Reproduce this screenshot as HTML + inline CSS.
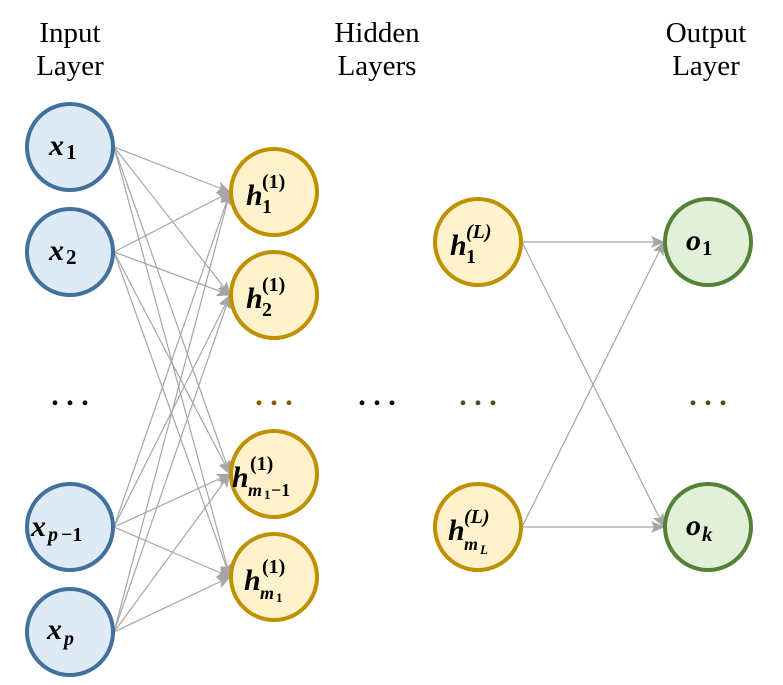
<!DOCTYPE html>
<html><head><style>body{margin:0;background:#fff}svg{display:block}</style></head><body>
<svg width="783" height="685" xmlns="http://www.w3.org/2000/svg" font-family="Liberation Serif, serif">
<defs><marker id="a" markerWidth="14" markerHeight="12" refX="13" refY="6" orient="auto" markerUnits="userSpaceOnUse"><path d="M0,0 L14,6 L0,12 L3,6 z" fill="#a6a6a6"/></marker></defs>
<g font-size="29" fill="#000" text-anchor="middle">
<text x="70" y="42">Input</text><text x="70" y="75">Layer</text>
<text x="377" y="42">Hidden</text><text x="377" y="75">Layers</text>
<text x="706" y="42">Output</text><text x="706" y="75">Layer</text>
</g>
<g stroke="#a6a6a6" stroke-width="1.2" marker-end="url(#a)">
<line x1="114" y1="147" x2="230" y2="192"/><line x1="114" y1="147" x2="230" y2="295"/><line x1="114" y1="147" x2="230" y2="474"/><line x1="114" y1="147" x2="230" y2="577"/>
<line x1="114" y1="252" x2="230" y2="192"/><line x1="114" y1="252" x2="230" y2="295"/><line x1="114" y1="252" x2="230" y2="474"/><line x1="114" y1="252" x2="230" y2="577"/>
<line x1="114" y1="527" x2="230" y2="192"/><line x1="114" y1="527" x2="230" y2="295"/><line x1="114" y1="527" x2="230" y2="474"/><line x1="114" y1="527" x2="230" y2="577"/>
<line x1="114" y1="632" x2="230" y2="192"/><line x1="114" y1="632" x2="230" y2="295"/><line x1="114" y1="632" x2="230" y2="474"/><line x1="114" y1="632" x2="230" y2="577"/>
<line x1="522" y1="242" x2="664" y2="242"/><line x1="522" y1="242" x2="664" y2="527"/>
<line x1="522" y1="527" x2="664" y2="242"/><line x1="522" y1="527" x2="664" y2="527"/>
</g>
<g stroke-width="4">
<circle cx="70" cy="147" r="43" fill="#deebf7" stroke="#41719c"/>
<circle cx="70" cy="252" r="43" fill="#deebf7" stroke="#41719c"/>
<circle cx="70" cy="527" r="43" fill="#deebf7" stroke="#41719c"/>
<circle cx="70" cy="632" r="43" fill="#deebf7" stroke="#41719c"/>
<circle cx="274" cy="192" r="43" fill="#fff2cc" stroke="#bf9000"/>
<circle cx="274" cy="295" r="43" fill="#fff2cc" stroke="#bf9000"/>
<circle cx="274" cy="474" r="43" fill="#fff2cc" stroke="#bf9000"/>
<circle cx="274" cy="577" r="43" fill="#fff2cc" stroke="#bf9000"/>
<circle cx="478" cy="242" r="43" fill="#fff2cc" stroke="#bf9000"/>
<circle cx="478" cy="527" r="43" fill="#fff2cc" stroke="#bf9000"/>
<circle cx="708" cy="242" r="43" fill="#e2f0d9" stroke="#538135"/>
<circle cx="708" cy="527" r="43" fill="#e2f0d9" stroke="#538135"/>
</g>
<g font-weight="bold" font-style="italic" font-size="30">
<text x="49" y="155">x</text><text x="66" y="159" font-size="21" font-style="normal">1</text>
<text x="49" y="260">x</text><text x="66" y="264" font-size="21" font-style="normal">2</text>
<text x="31" y="536">x</text><text x="48" y="541" font-size="20">p</text><text x="61" y="541" font-size="20" font-style="normal">−1</text>
<text x="47" y="639">x</text><text x="64" y="645" font-size="20">p</text>

<text x="246" y="205">h</text><text x="262" y="213" font-size="20" font-style="normal">1</text><text x="262" y="188" font-size="20" font-style="normal">(1)</text>
<text x="246" y="308">h</text><text x="262" y="316" font-size="20" font-style="normal">2</text><text x="262" y="291" font-size="20" font-style="normal">(1)</text>
<text x="232" y="487">h</text><text x="250" y="470" font-size="20" font-style="normal">(1)</text><text x="248" y="496" font-size="18">m</text><text x="264" y="499" font-size="13" font-style="normal">1</text><text x="271" y="496" font-size="18" font-style="normal">−1</text>
<text x="244" y="590">h</text><text x="262" y="573" font-size="20" font-style="normal">(1)</text><text x="260" y="599" font-size="18">m</text><text x="276" y="602" font-size="13" font-style="normal">1</text>

<text x="450" y="255">h</text><text x="466" y="263" font-size="20" font-style="normal">1</text><text x="466" y="238" font-size="20">(L)</text>
<text x="448" y="540">h</text><text x="464" y="523" font-size="20">(L)</text><text x="464" y="550" font-size="18">m</text><text x="480" y="554" font-size="13">L</text>

<text x="686" y="250">o</text><text x="702" y="255" font-size="21" font-style="normal">1</text>
<text x="686" y="535">o</text><text x="702" y="541" font-size="21">k</text>
</g>
<g font-size="30" font-weight="bold" text-anchor="middle">
<text x="70" y="405" fill="#000">. . .</text>
<text x="274" y="405" fill="#7f6000">. . .</text>
<text x="377" y="405" fill="#000">. . .</text>
<text x="478" y="405" fill="#385723">. . .</text>
<text x="708" y="405" fill="#385723">. . .</text>
</g>
</svg>
</body></html>
